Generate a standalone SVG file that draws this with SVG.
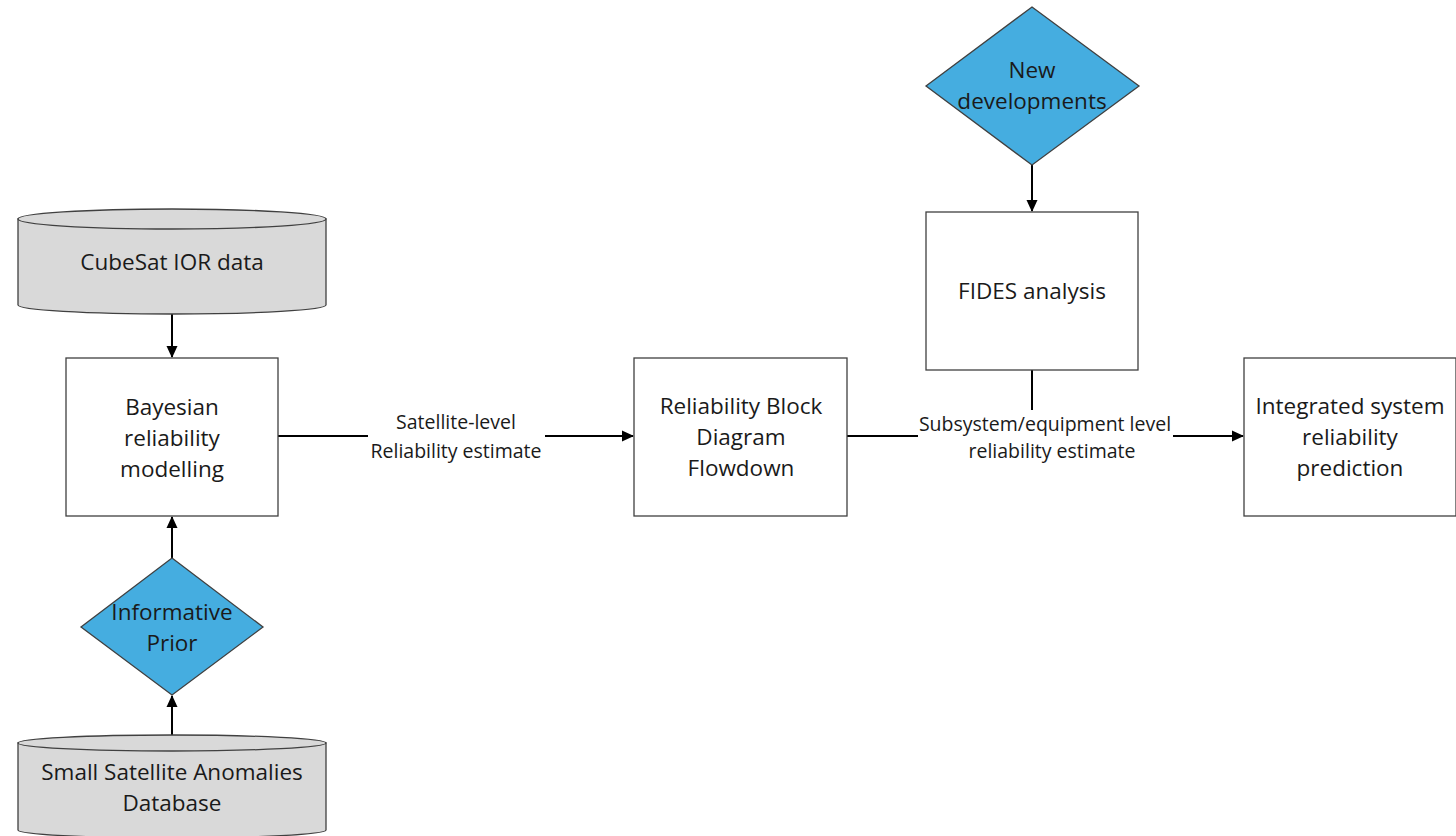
<svg xmlns="http://www.w3.org/2000/svg" width="1456" height="836" viewBox="0 0 1456 836">
<defs>
<marker id="ah" markerWidth="12" markerHeight="12" refX="11" refY="6" orient="auto" markerUnits="userSpaceOnUse">
<path d="M0,0.5 L12,6 L0,11.5 Z" fill="#000"/>
</marker>
<style>
.box{fill:#fff;stroke:#404040;stroke-width:1.3}
.cyl{fill:#d9d9d9;stroke:#404040;stroke-width:1.3}
.dia{fill:#45ade0;stroke:#404040;stroke-width:1.3}
.t{font-family:"Open Sans","Noto Sans",sans-serif;font-size:22.5px;fill:#1a1a1a;text-anchor:middle}
.l{font-family:"Open Sans","Noto Sans",sans-serif;font-size:19.5px;fill:#1a1a1a;text-anchor:middle}
.c{stroke:#000;stroke-width:2;fill:none}
</style>
</defs>
<rect width="1456" height="836" fill="#fff"/>
<g id="connectors">
<line class="c" x1="172" y1="308" x2="172" y2="357" marker-end="url(#ah)"/>
<line class="c" x1="172" y1="558" x2="172" y2="517" marker-end="url(#ah)"/>
<line class="c" x1="172" y1="735" x2="172" y2="696" marker-end="url(#ah)"/>
<line class="c" x1="1032" y1="165" x2="1032" y2="211" marker-end="url(#ah)"/>
<line class="c" x1="278" y1="436" x2="368" y2="436"/>
<line class="c" x1="545" y1="436" x2="633" y2="436" marker-end="url(#ah)"/>
<line class="c" x1="847" y1="436" x2="918" y2="436"/>
<line class="c" x1="1173" y1="436" x2="1243" y2="436" marker-end="url(#ah)"/>
<line class="c" x1="1032" y1="370" x2="1032" y2="410"/>
<text class="l" x="456" y="429">Satellite-level</text>
<text class="l" x="456" y="458">Reliability estimate</text>
<text class="l" x="1045" y="431">Subsystem/equipment level</text>
<text class="l" x="1052" y="458">reliability estimate</text>
</g>
<g id="cubesat">
<path class="cyl" d="M18,219 L18,305 A154,9 0 0 0 326,305 L326,219 Z"/>
<ellipse class="cyl" cx="172" cy="219" rx="154" ry="10"/>
<text class="t" x="172" y="270">CubeSat IOR data</text>
</g>
<g id="bayesian">
<rect class="box" x="66" y="358" width="212" height="158"/>
<text class="t" x="172" y="415">Bayesian</text>
<text class="t" x="172" y="446">reliability</text>
<text class="t" x="172" y="477">modelling</text>
</g>
<g id="prior">
<polygon class="dia" points="172,558 263,627 172,695 81,627"/>
<text class="t" x="172" y="620">Informative</text>
<text class="t" x="172" y="651">Prior</text>
</g>
<g id="anomalies">
<path class="cyl" d="M18,743 L18,830 A154,8 0 0 0 326,830 L326,743 Z"/>
<ellipse class="cyl" cx="172" cy="743" rx="154" ry="8"/>
<text class="t" x="172" y="780">Small Satellite Anomalies</text>
<text class="t" x="172" y="811">Database</text>
</g>
<g id="rbd">
<rect class="box" x="634" y="358" width="213" height="158"/>
<text class="t" x="741" y="414">Reliability Block</text>
<text class="t" x="741" y="445">Diagram</text>
<text class="t" x="741" y="476">Flowdown</text>
</g>
<g id="newdev">
<polygon class="dia" points="1032,7 1139,86 1032,165 926,86"/>
<text class="t" x="1032" y="78">New</text>
<text class="t" x="1032" y="109">developments</text>
</g>
<g id="fides">
<rect class="box" x="926" y="212" width="212" height="158"/>
<text class="t" x="1032" y="299">FIDES analysis</text>
</g>
<g id="integrated">
<rect class="box" x="1244" y="358" width="212" height="158"/>
<text class="t" x="1350" y="414">Integrated system</text>
<text class="t" x="1350" y="445">reliability</text>
<text class="t" x="1350" y="476">prediction</text>
</g>
</svg>
